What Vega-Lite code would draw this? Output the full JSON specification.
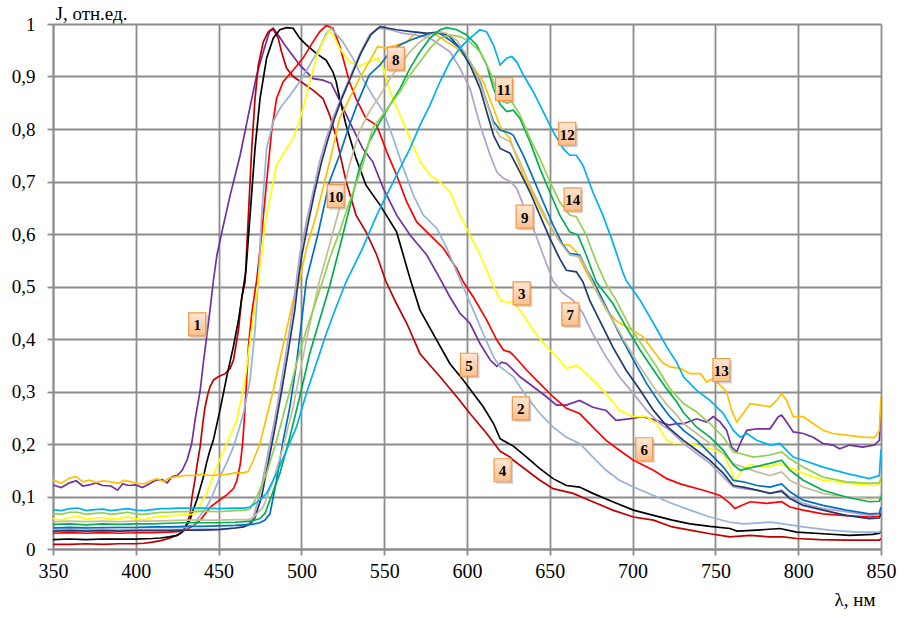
{
"$schema":"https://vega.github.io/schema/vega-lite/v6.json",
"width":828,"height":525,
"autosize":{"type":"none"},
"padding":{"left":53,"top":24,"right":35,"bottom":74},
"background":"white",
"config":{"view":{"stroke":null},"font":"Times New Roman"},
"datasets":{
"labels":[
{"n":"1","x":437.1,"y":0.428},{"n":"2","x":632.5,"y":0.268},{"n":"3","x":633,"y":0.487},{"n":"4","x":621.5,"y":0.15},{"n":"5","x":601.2,"y":0.351},{"n":"6","x":707,"y":0.19},{"n":"7","x":662.4,"y":0.447},{"n":"8","x":557,"y":0.934},{"n":"9","x":634.8,"y":0.633},{"n":"10","x":520.7,"y":0.672},{"n":"11","x":622.3,"y":0.876},{"n":"12","x":660.5,"y":0.791},{"n":"13","x":753.6,"y":0.341},{"n":"14","x":663.8,"y":0.666}
],
"curves":[
{"s":"1","x":350,"y":0.122},{"s":"1","x":355,"y":0.117},{"s":"1","x":360,"y":0.126},{"s":"1","x":364,"y":0.13},{"s":"1","x":368,"y":0.12},{"s":"1","x":372,"y":0.122},{"s":"1","x":376,"y":0.126},{"s":"1","x":380,"y":0.121},{"s":"1","x":385,"y":0.12},{"s":"1","x":389,"y":0.112},{"s":"1","x":392,"y":0.124},{"s":"1","x":396,"y":0.121},{"s":"1","x":400,"y":0.122},{"s":"1","x":404,"y":0.117},{"s":"1","x":408,"y":0.124},{"s":"1","x":412,"y":0.131},{"s":"1","x":416,"y":0.132},{"s":"1","x":419,"y":0.126},{"s":"1","x":422,"y":0.138},{"s":"1","x":425,"y":0.14},{"s":"1","x":428,"y":0.15},{"s":"1","x":431,"y":0.17},{"s":"1","x":433.7,"y":0.2},{"s":"1","x":436,"y":0.25},{"s":"1","x":438.8,"y":0.3},{"s":"1","x":441,"y":0.36},{"s":"1","x":442.8,"y":0.404},{"s":"1","x":445,"y":0.46},{"s":"1","x":446.8,"y":0.51},{"s":"1","x":449,"y":0.56},{"s":"1","x":452,"y":0.604},{"s":"1","x":457,"y":0.674},{"s":"1","x":463,"y":0.75},{"s":"1","x":468,"y":0.827},{"s":"1","x":473,"y":0.903},{"s":"1","x":477,"y":0.947},{"s":"1","x":481,"y":0.988},{"s":"1","x":483,"y":0.992},{"s":"1","x":486,"y":0.979},{"s":"1","x":490,"y":0.96},{"s":"1","x":493,"y":0.947},{"s":"1","x":499,"y":0.922},{"s":"1","x":504,"y":0.906},{"s":"1","x":507,"y":0.896},{"s":"1","x":513,"y":0.893},{"s":"1","x":518,"y":0.887},{"s":"1","x":523,"y":0.855},{"s":"1","x":529,"y":0.814},{"s":"1","x":537,"y":0.763},{"s":"1","x":543,"y":0.738},{"s":"1","x":549.5,"y":0.687},{"s":"1","x":557.5,"y":0.636},{"s":"1","x":565.6,"y":0.598},{"s":"1","x":575.7,"y":0.56},{"s":"1","x":583.7,"y":0.515},{"s":"1","x":589.7,"y":0.48},{"s":"1","x":595.7,"y":0.449},{"s":"1","x":601.8,"y":0.43},{"s":"1","x":607.9,"y":0.391},{"s":"1","x":614,"y":0.36},{"s":"1","x":618,"y":0.348},{"s":"1","x":621,"y":0.356},{"s":"1","x":624,"y":0.353},{"s":"1","x":632,"y":0.328},{"s":"1","x":640,"y":0.309},{"s":"1","x":648,"y":0.29},{"s":"1","x":654,"y":0.274},{"s":"1","x":660,"y":0.274},{"s":"1","x":668,"y":0.283},{"s":"1","x":676,"y":0.27},{"s":"1","x":684,"y":0.264},{"s":"1","x":690,"y":0.245},{"s":"1","x":698,"y":0.248},{"s":"1","x":706,"y":0.252},{"s":"1","x":714,"y":0.245},{"s":"1","x":722,"y":0.236},{"s":"1","x":727,"y":0.239},{"s":"1","x":731,"y":0.239},{"s":"1","x":738.7,"y":0.248},{"s":"1","x":744.7,"y":0.242},{"s":"1","x":748.7,"y":0.252},{"s":"1","x":752.8,"y":0.242},{"s":"1","x":756.8,"y":0.226},{"s":"1","x":759.8,"y":0.194},{"s":"1","x":762.8,"y":0.185},{"s":"1","x":765.8,"y":0.207},{"s":"1","x":769,"y":0.226},{"s":"1","x":775,"y":0.229},{"s":"1","x":783,"y":0.229},{"s":"1","x":788,"y":0.252},{"s":"1","x":790,"y":0.255},{"s":"1","x":793,"y":0.242},{"s":"1","x":797,"y":0.223},{"s":"1","x":803,"y":0.22},{"s":"1","x":809,"y":0.213},{"s":"1","x":815,"y":0.201},{"s":"1","x":821,"y":0.198},{"s":"1","x":825,"y":0.191},{"s":"1","x":831,"y":0.198},{"s":"1","x":839,"y":0.194},{"s":"1","x":846,"y":0.198},{"s":"1","x":849,"y":0.207},{"s":"1","x":850,"y":0.27},

{"s":"4","x":350,"y":0.009},{"s":"4","x":360,"y":0.009},{"s":"4","x":370,"y":0.01},{"s":"4","x":380,"y":0.009},{"s":"4","x":390,"y":0.01},{"s":"4","x":400,"y":0.01},{"s":"4","x":405,"y":0.011},{"s":"4","x":410,"y":0.013},{"s":"4","x":415,"y":0.016},{"s":"4","x":420,"y":0.02},{"s":"4","x":425,"y":0.026},{"s":"4","x":429,"y":0.036},{"s":"4","x":431,"y":0.05},{"s":"4","x":432.7,"y":0.065},{"s":"4","x":434,"y":0.1},{"s":"4","x":435.7,"y":0.131},{"s":"4","x":437,"y":0.16},{"s":"4","x":438.8,"y":0.194},{"s":"4","x":440.5,"y":0.24},{"s":"4","x":441.8,"y":0.27},{"s":"4","x":443.5,"y":0.295},{"s":"4","x":444.8,"y":0.309},{"s":"4","x":447,"y":0.322},{"s":"4","x":449.8,"y":0.328},{"s":"4","x":454,"y":0.334},{"s":"4","x":457,"y":0.344},{"s":"4","x":459,"y":0.36},{"s":"4","x":462,"y":0.417},{"s":"4","x":464,"y":0.48},{"s":"4","x":466,"y":0.509},{"s":"4","x":468,"y":0.636},{"s":"4","x":470,"y":0.763},{"s":"4","x":472,"y":0.858},{"s":"4","x":474,"y":0.922},{"s":"4","x":477,"y":0.966},{"s":"4","x":480,"y":0.985},{"s":"4","x":483,"y":0.99},{"s":"4","x":486,"y":0.973},{"s":"4","x":488,"y":0.947},{"s":"4","x":491,"y":0.916},{"s":"4","x":495,"y":0.9},{"s":"4","x":501,"y":0.887},{"s":"4","x":507,"y":0.874},{"s":"4","x":513,"y":0.858},{"s":"4","x":517,"y":0.827},{"s":"4","x":521,"y":0.785},{"s":"4","x":527,"y":0.7},{"s":"4","x":533,"y":0.636},{"s":"4","x":539,"y":0.604},{"s":"4","x":545.5,"y":0.56},{"s":"4","x":551,"y":0.51},{"s":"4","x":557,"y":0.47},{"s":"4","x":563.6,"y":0.43},{"s":"4","x":571.6,"y":0.372},{"s":"4","x":583.7,"y":0.328},{"s":"4","x":593.8,"y":0.29},{"s":"4","x":601.8,"y":0.258},{"s":"4","x":611.9,"y":0.22},{"s":"4","x":620,"y":0.186},{"s":"4","x":626,"y":0.175},{"s":"4","x":628,"y":0.169},{"s":"4","x":636,"y":0.15},{"s":"4","x":644,"y":0.131},{"s":"4","x":652,"y":0.115},{"s":"4","x":664,"y":0.106},{"s":"4","x":676,"y":0.09},{"s":"4","x":688,"y":0.074},{"s":"4","x":700.5,"y":0.061},{"s":"4","x":712.6,"y":0.055},{"s":"4","x":724,"y":0.042},{"s":"4","x":734.7,"y":0.036},{"s":"4","x":746.7,"y":0.029},{"s":"4","x":758.8,"y":0.023},{"s":"4","x":771,"y":0.026},{"s":"4","x":783,"y":0.023},{"s":"4","x":791,"y":0.023},{"s":"4","x":799,"y":0.02},{"s":"4","x":813,"y":0.018},{"s":"4","x":829,"y":0.017},{"s":"4","x":849,"y":0.017},{"s":"4","x":850,"y":0.02},

{"s":"5","x":350,"y":0.018},{"s":"5","x":360,"y":0.019},{"s":"5","x":370,"y":0.018},{"s":"5","x":380,"y":0.019},{"s":"5","x":390,"y":0.019},{"s":"5","x":400,"y":0.019},{"s":"5","x":410,"y":0.02},{"s":"5","x":415,"y":0.021},{"s":"5","x":420,"y":0.023},{"s":"5","x":425,"y":0.026},{"s":"5","x":428,"y":0.032},{"s":"5","x":430,"y":0.042},{"s":"5","x":432.7,"y":0.055},{"s":"5","x":434.7,"y":0.075},{"s":"5","x":436.8,"y":0.093},{"s":"5","x":438.8,"y":0.115},{"s":"5","x":440.8,"y":0.137},{"s":"5","x":442.8,"y":0.165},{"s":"5","x":444.8,"y":0.188},{"s":"5","x":446.8,"y":0.207},{"s":"5","x":450.8,"y":0.264},{"s":"5","x":454.9,"y":0.328},{"s":"5","x":458.9,"y":0.385},{"s":"5","x":462,"y":0.436},{"s":"5","x":465,"y":0.499},{"s":"5","x":466.5,"y":0.53},{"s":"5","x":469,"y":0.636},{"s":"5","x":472,"y":0.763},{"s":"5","x":475,"y":0.858},{"s":"5","x":479,"y":0.935},{"s":"5","x":483,"y":0.973},{"s":"5","x":487,"y":0.989},{"s":"5","x":491,"y":0.993},{"s":"5","x":495,"y":0.992},{"s":"5","x":499,"y":0.973},{"s":"5","x":503,"y":0.96},{"s":"5","x":509,"y":0.944},{"s":"5","x":515,"y":0.931},{"s":"5","x":519,"y":0.909},{"s":"5","x":521,"y":0.89},{"s":"5","x":523,"y":0.86},{"s":"5","x":527,"y":0.807},{"s":"5","x":533,"y":0.744},{"s":"5","x":539,"y":0.693},{"s":"5","x":547.5,"y":0.655},{"s":"5","x":557.5,"y":0.604},{"s":"5","x":565.6,"y":0.515},{"s":"5","x":571.6,"y":0.455},{"s":"5","x":581.7,"y":0.398},{"s":"5","x":589.7,"y":0.353},{"s":"5","x":597.7,"y":0.322},{"s":"5","x":603.8,"y":0.296},{"s":"5","x":609.8,"y":0.271},{"s":"5","x":616,"y":0.239},{"s":"5","x":620,"y":0.21},{"s":"5","x":624,"y":0.203},{"s":"5","x":628,"y":0.196},{"s":"5","x":636,"y":0.175},{"s":"5","x":644,"y":0.153},{"s":"5","x":652,"y":0.134},{"s":"5","x":660,"y":0.121},{"s":"5","x":668,"y":0.118},{"s":"5","x":676,"y":0.106},{"s":"5","x":688,"y":0.09},{"s":"5","x":700.5,"y":0.074},{"s":"5","x":712.6,"y":0.064},{"s":"5","x":724,"y":0.055},{"s":"5","x":734.7,"y":0.048},{"s":"5","x":746.7,"y":0.043},{"s":"5","x":758.8,"y":0.039},{"s":"5","x":763,"y":0.034},{"s":"5","x":775,"y":0.036},{"s":"5","x":789,"y":0.039},{"s":"5","x":799,"y":0.032},{"s":"5","x":815,"y":0.029},{"s":"5","x":831,"y":0.026},{"s":"5","x":845,"y":0.028},{"s":"5","x":849,"y":0.03},{"s":"5","x":850,"y":0.035},

{"s":"6","x":350,"y":0.03},{"s":"6","x":360,"y":0.031},{"s":"6","x":370,"y":0.03},{"s":"6","x":380,"y":0.031},{"s":"6","x":390,"y":0.03},{"s":"6","x":400,"y":0.031},{"s":"6","x":410,"y":0.031},{"s":"6","x":420,"y":0.032},{"s":"6","x":425,"y":0.033},{"s":"6","x":430,"y":0.036},{"s":"6","x":435,"y":0.045},{"s":"6","x":439,"y":0.055},{"s":"6","x":445,"y":0.08},{"s":"6","x":450,"y":0.092},{"s":"6","x":455,"y":0.103},{"s":"6","x":459,"y":0.115},{"s":"6","x":461,"y":0.13},{"s":"6","x":463,"y":0.16},{"s":"6","x":464.5,"y":0.2},{"s":"6","x":466,"y":0.27},{"s":"6","x":468,"y":0.385},{"s":"6","x":470,"y":0.449},{"s":"6","x":473,"y":0.512},{"s":"6","x":476,"y":0.6},{"s":"6","x":479,"y":0.7},{"s":"6","x":482,"y":0.795},{"s":"6","x":485,"y":0.858},{"s":"6","x":489,"y":0.89},{"s":"6","x":495,"y":0.912},{"s":"6","x":501,"y":0.935},{"s":"6","x":507,"y":0.966},{"s":"6","x":511,"y":0.985},{"s":"6","x":515,"y":0.997},{"s":"6","x":519,"y":0.992},{"s":"6","x":523,"y":0.96},{"s":"6","x":529,"y":0.89},{"s":"6","x":533,"y":0.858},{"s":"6","x":539,"y":0.82},{"s":"6","x":545.5,"y":0.807},{"s":"6","x":551.5,"y":0.757},{"s":"6","x":557.5,"y":0.712},{"s":"6","x":563.6,"y":0.661},{"s":"6","x":569.6,"y":0.623},{"s":"6","x":577.7,"y":0.598},{"s":"6","x":585.7,"y":0.573},{"s":"6","x":593.8,"y":0.534},{"s":"6","x":597.7,"y":0.509},{"s":"6","x":603.8,"y":0.48},{"s":"6","x":611.9,"y":0.436},{"s":"6","x":618,"y":0.398},{"s":"6","x":622,"y":0.379},{"s":"6","x":626,"y":0.375},{"s":"6","x":628,"y":0.369},{"s":"6","x":636,"y":0.341},{"s":"6","x":644,"y":0.315},{"s":"6","x":652,"y":0.29},{"s":"6","x":660,"y":0.268},{"s":"6","x":668,"y":0.258},{"s":"6","x":676,"y":0.232},{"s":"6","x":684,"y":0.207},{"s":"6","x":692,"y":0.188},{"s":"6","x":700.5,"y":0.169},{"s":"6","x":712.6,"y":0.15},{"s":"6","x":720.6,"y":0.134},{"s":"6","x":728.7,"y":0.124},{"s":"6","x":742.7,"y":0.112},{"s":"6","x":752.8,"y":0.102},{"s":"6","x":758.8,"y":0.087},{"s":"6","x":761.8,"y":0.077},{"s":"6","x":765.8,"y":0.083},{"s":"6","x":770.9,"y":0.09},{"s":"6","x":781,"y":0.087},{"s":"6","x":790,"y":0.09},{"s":"6","x":795,"y":0.08},{"s":"6","x":803,"y":0.074},{"s":"6","x":815,"y":0.067},{"s":"6","x":827,"y":0.064},{"s":"6","x":843,"y":0.061},{"s":"6","x":849,"y":0.062},{"s":"6","x":850,"y":0.07},

{"s":"2","x":350,"y":0.04},{"s":"2","x":360,"y":0.04},{"s":"2","x":370,"y":0.041},{"s":"2","x":380,"y":0.04},{"s":"2","x":390,"y":0.041},{"s":"2","x":400,"y":0.041},{"s":"2","x":410,"y":0.041},{"s":"2","x":420,"y":0.041},{"s":"2","x":430,"y":0.041},{"s":"2","x":434.7,"y":0.045},{"s":"2","x":438,"y":0.06},{"s":"2","x":442.8,"y":0.08},{"s":"2","x":446,"y":0.1},{"s":"2","x":450.8,"y":0.137},{"s":"2","x":455,"y":0.165},{"s":"2","x":458.9,"y":0.194},{"s":"2","x":462,"y":0.225},{"s":"2","x":465,"y":0.258},{"s":"2","x":469,"y":0.322},{"s":"2","x":472,"y":0.417},{"s":"2","x":474,"y":0.512},{"s":"2","x":476,"y":0.636},{"s":"2","x":479,"y":0.763},{"s":"2","x":483,"y":0.814},{"s":"2","x":487,"y":0.839},{"s":"2","x":493,"y":0.864},{"s":"2","x":499,"y":0.89},{"s":"2","x":505,"y":0.922},{"s":"2","x":511,"y":0.954},{"s":"2","x":515,"y":0.982},{"s":"2","x":518,"y":0.992},{"s":"2","x":525,"y":0.966},{"s":"2","x":531,"y":0.935},{"s":"2","x":537,"y":0.896},{"s":"2","x":543,"y":0.864},{"s":"2","x":549.5,"y":0.833},{"s":"2","x":555.5,"y":0.782},{"s":"2","x":561.6,"y":0.725},{"s":"2","x":567.6,"y":0.674},{"s":"2","x":573.6,"y":0.636},{"s":"2","x":581.7,"y":0.611},{"s":"2","x":587.8,"y":0.573},{"s":"2","x":593.8,"y":0.528},{"s":"2","x":597.7,"y":0.499},{"s":"2","x":603.8,"y":0.455},{"s":"2","x":609.8,"y":0.41},{"s":"2","x":616,"y":0.366},{"s":"2","x":620,"y":0.347},{"s":"2","x":628,"y":0.328},{"s":"2","x":636,"y":0.29},{"s":"2","x":644,"y":0.258},{"s":"2","x":652,"y":0.232},{"s":"2","x":660,"y":0.213},{"s":"2","x":668,"y":0.201},{"s":"2","x":676,"y":0.175},{"s":"2","x":684,"y":0.15},{"s":"2","x":692,"y":0.131},{"s":"2","x":700.5,"y":0.118},{"s":"2","x":712.6,"y":0.102},{"s":"2","x":722.6,"y":0.088},{"s":"2","x":734.7,"y":0.074},{"s":"2","x":746.7,"y":0.061},{"s":"2","x":758.8,"y":0.051},{"s":"2","x":767,"y":0.048},{"s":"2","x":783,"y":0.051},{"s":"2","x":791,"y":0.048},{"s":"2","x":803,"y":0.042},{"s":"2","x":819,"y":0.036},{"s":"2","x":835,"y":0.032},{"s":"2","x":849,"y":0.032},{"s":"2","x":850,"y":0.035},

{"s":"3","x":350,"y":0.058},{"s":"3","x":355,"y":0.055},{"s":"3","x":360,"y":0.06},{"s":"3","x":365,"y":0.062},{"s":"3","x":370,"y":0.057},{"s":"3","x":375,"y":0.059},{"s":"3","x":380,"y":0.06},{"s":"3","x":385,"y":0.057},{"s":"3","x":390,"y":0.058},{"s":"3","x":395,"y":0.061},{"s":"3","x":400,"y":0.058},{"s":"3","x":405,"y":0.056},{"s":"3","x":410,"y":0.06},{"s":"3","x":415,"y":0.062},{"s":"3","x":420,"y":0.063},{"s":"3","x":425,"y":0.064},{"s":"3","x":430,"y":0.065},{"s":"3","x":434,"y":0.066},{"s":"3","x":436.8,"y":0.07},{"s":"3","x":439,"y":0.085},{"s":"3","x":442.8,"y":0.106},{"s":"3","x":448.8,"y":0.156},{"s":"3","x":454.9,"y":0.201},{"s":"3","x":460.9,"y":0.245},{"s":"3","x":466,"y":0.322},{"s":"3","x":469,"y":0.398},{"s":"3","x":472,"y":0.461},{"s":"3","x":474,"y":0.512},{"s":"3","x":476,"y":0.56},{"s":"3","x":478,"y":0.62},{"s":"3","x":481,"y":0.668},{"s":"3","x":485,"y":0.731},{"s":"3","x":491,"y":0.763},{"s":"3","x":495,"y":0.782},{"s":"3","x":498,"y":0.807},{"s":"3","x":501,"y":0.839},{"s":"3","x":505,"y":0.89},{"s":"3","x":509,"y":0.935},{"s":"3","x":513,"y":0.966},{"s":"3","x":517,"y":0.988},{"s":"3","x":520,"y":0.975},{"s":"3","x":523,"y":0.954},{"s":"3","x":529,"y":0.928},{"s":"3","x":535,"y":0.92},{"s":"3","x":541,"y":0.928},{"s":"3","x":546,"y":0.935},{"s":"3","x":549.5,"y":0.916},{"s":"3","x":553.5,"y":0.871},{"s":"3","x":559.5,"y":0.827},{"s":"3","x":565.6,"y":0.782},{"s":"3","x":571.6,"y":0.738},{"s":"3","x":577.7,"y":0.712},{"s":"3","x":583.7,"y":0.699},{"s":"3","x":589.7,"y":0.68},{"s":"3","x":595.7,"y":0.636},{"s":"3","x":601.8,"y":0.598},{"s":"3","x":607.9,"y":0.56},{"s":"3","x":614,"y":0.515},{"s":"3","x":620,"y":0.474},{"s":"3","x":624,"y":0.47},{"s":"3","x":628,"y":0.471},{"s":"3","x":632,"y":0.455},{"s":"3","x":640,"y":0.417},{"s":"3","x":648,"y":0.385},{"s":"3","x":656,"y":0.36},{"s":"3","x":660,"y":0.344},{"s":"3","x":666,"y":0.35},{"s":"3","x":670,"y":0.34},{"s":"3","x":676,"y":0.322},{"s":"3","x":684,"y":0.296},{"s":"3","x":692,"y":0.264},{"s":"3","x":700.5,"y":0.252},{"s":"3","x":708.5,"y":0.252},{"s":"3","x":714.5,"y":0.239},{"s":"3","x":720.6,"y":0.207},{"s":"3","x":724.6,"y":0.201},{"s":"3","x":734.7,"y":0.201},{"s":"3","x":746.7,"y":0.191},{"s":"3","x":754.8,"y":0.182},{"s":"3","x":758.8,"y":0.156},{"s":"3","x":761.8,"y":0.128},{"s":"3","x":765.8,"y":0.15},{"s":"3","x":770.9,"y":0.16},{"s":"3","x":781,"y":0.156},{"s":"3","x":789,"y":0.163},{"s":"3","x":794,"y":0.156},{"s":"3","x":803,"y":0.144},{"s":"3","x":815,"y":0.131},{"s":"3","x":831,"y":0.125},{"s":"3","x":847,"y":0.121},{"s":"3","x":850,"y":0.125},

{"s":"13","x":350,"y":0.132},{"s":"13","x":355,"y":0.125},{"s":"13","x":360,"y":0.135},{"s":"13","x":364,"y":0.138},{"s":"13","x":368,"y":0.128},{"s":"13","x":372,"y":0.131},{"s":"13","x":376,"y":0.127},{"s":"13","x":380,"y":0.13},{"s":"13","x":385,"y":0.128},{"s":"13","x":390,"y":0.125},{"s":"13","x":393,"y":0.131},{"s":"13","x":397,"y":0.128},{"s":"13","x":401,"y":0.125},{"s":"13","x":405,"y":0.124},{"s":"13","x":409,"y":0.13},{"s":"13","x":413,"y":0.134},{"s":"13","x":417,"y":0.128},{"s":"13","x":420,"y":0.135},{"s":"13","x":425,"y":0.138},{"s":"13","x":430,"y":0.14},{"s":"13","x":435,"y":0.14},{"s":"13","x":440,"y":0.142},{"s":"13","x":445,"y":0.14},{"s":"13","x":450,"y":0.141},{"s":"13","x":455,"y":0.142},{"s":"13","x":460,"y":0.145},{"s":"13","x":465,"y":0.145},{"s":"13","x":468,"y":0.148},{"s":"13","x":471,"y":0.169},{"s":"13","x":475,"y":0.201},{"s":"13","x":479,"y":0.252},{"s":"13","x":483,"y":0.302},{"s":"13","x":487,"y":0.36},{"s":"13","x":491,"y":0.417},{"s":"13","x":495,"y":0.474},{"s":"13","x":499,"y":0.512},{"s":"13","x":503,"y":0.573},{"s":"13","x":509,"y":0.636},{"s":"13","x":515,"y":0.712},{"s":"13","x":519,"y":0.763},{"s":"13","x":523,"y":0.82},{"s":"13","x":529,"y":0.858},{"s":"13","x":535,"y":0.896},{"s":"13","x":541,"y":0.928},{"s":"13","x":546,"y":0.957},{"s":"13","x":551,"y":0.954},{"s":"13","x":557.5,"y":0.96},{"s":"13","x":563.6,"y":0.966},{"s":"13","x":569.6,"y":0.985},{"s":"13","x":575.7,"y":0.982},{"s":"13","x":581.7,"y":0.979},{"s":"13","x":587.8,"y":0.966},{"s":"13","x":593.8,"y":0.954},{"s":"13","x":599.8,"y":0.935},{"s":"13","x":605.8,"y":0.909},{"s":"13","x":609.8,"y":0.89},{"s":"13","x":616,"y":0.839},{"s":"13","x":620,"y":0.805},{"s":"13","x":624,"y":0.788},{"s":"13","x":626,"y":0.782},{"s":"13","x":628,"y":0.763},{"s":"13","x":634,"y":0.712},{"s":"13","x":640,"y":0.674},{"s":"13","x":646,"y":0.636},{"s":"13","x":652,"y":0.604},{"s":"13","x":658,"y":0.579},{"s":"13","x":662,"y":0.579},{"s":"13","x":666,"y":0.566},{"s":"13","x":672,"y":0.528},{"s":"13","x":680,"y":0.48},{"s":"13","x":684,"y":0.455},{"s":"13","x":690,"y":0.435},{"s":"13","x":698,"y":0.42},{"s":"13","x":706,"y":0.405},{"s":"13","x":712,"y":0.38},{"s":"13","x":718,"y":0.355},{"s":"13","x":722.6,"y":0.347},{"s":"13","x":728.7,"y":0.344},{"s":"13","x":734.7,"y":0.334},{"s":"13","x":741,"y":0.334},{"s":"13","x":744.7,"y":0.318},{"s":"13","x":748.7,"y":0.325},{"s":"13","x":752.8,"y":0.312},{"s":"13","x":756.8,"y":0.299},{"s":"13","x":759.8,"y":0.264},{"s":"13","x":762.8,"y":0.242},{"s":"13","x":766.8,"y":0.258},{"s":"13","x":770.9,"y":0.277},{"s":"13","x":777,"y":0.274},{"s":"13","x":783,"y":0.271},{"s":"13","x":787,"y":0.283},{"s":"13","x":790,"y":0.296},{"s":"13","x":793,"y":0.283},{"s":"13","x":797,"y":0.252},{"s":"13","x":803,"y":0.252},{"s":"13","x":809,"y":0.239},{"s":"13","x":815,"y":0.226},{"s":"13","x":821,"y":0.22},{"s":"13","x":829,"y":0.217},{"s":"13","x":839,"y":0.213},{"s":"13","x":846,"y":0.212},{"s":"13","x":849,"y":0.225},{"s":"13","x":850,"y":0.29},

{"s":"7","x":350,"y":0.036},{"s":"7","x":360,"y":0.037},{"s":"7","x":370,"y":0.036},{"s":"7","x":380,"y":0.037},{"s":"7","x":390,"y":0.036},{"s":"7","x":400,"y":0.037},{"s":"7","x":410,"y":0.037},{"s":"7","x":420,"y":0.037},{"s":"7","x":430,"y":0.037},{"s":"7","x":440,"y":0.038},{"s":"7","x":450,"y":0.038},{"s":"7","x":460,"y":0.04},{"s":"7","x":465,"y":0.042},{"s":"7","x":468,"y":0.048},{"s":"7","x":471,"y":0.061},{"s":"7","x":475,"y":0.106},{"s":"7","x":479,"y":0.169},{"s":"7","x":483,"y":0.232},{"s":"7","x":487,"y":0.302},{"s":"7","x":491,"y":0.379},{"s":"7","x":495,"y":0.461},{"s":"7","x":497,"y":0.512},{"s":"7","x":499,"y":0.56},{"s":"7","x":503,"y":0.623},{"s":"7","x":507,"y":0.68},{"s":"7","x":511,"y":0.738},{"s":"7","x":515,"y":0.782},{"s":"7","x":519,"y":0.82},{"s":"7","x":523,"y":0.852},{"s":"7","x":529,"y":0.896},{"s":"7","x":535,"y":0.941},{"s":"7","x":541,"y":0.979},{"s":"7","x":546,"y":0.992},{"s":"7","x":553.5,"y":0.989},{"s":"7","x":561.6,"y":0.982},{"s":"7","x":569.6,"y":0.979},{"s":"7","x":577.7,"y":0.973},{"s":"7","x":583.7,"y":0.96},{"s":"7","x":589.7,"y":0.947},{"s":"7","x":595.7,"y":0.916},{"s":"7","x":601.8,"y":0.877},{"s":"7","x":607.9,"y":0.807},{"s":"7","x":614,"y":0.75},{"s":"7","x":618,"y":0.718},{"s":"7","x":622,"y":0.706},{"s":"7","x":626,"y":0.7},{"s":"7","x":630,"y":0.687},{"s":"7","x":634,"y":0.655},{"s":"7","x":640,"y":0.611},{"s":"7","x":646,"y":0.56},{"s":"7","x":652,"y":0.51},{"s":"7","x":658,"y":0.487},{"s":"7","x":664,"y":0.474},{"s":"7","x":670,"y":0.449},{"s":"7","x":676,"y":0.41},{"s":"7","x":684,"y":0.366},{"s":"7","x":692,"y":0.328},{"s":"7","x":700.5,"y":0.296},{"s":"7","x":708.5,"y":0.264},{"s":"7","x":716.5,"y":0.239},{"s":"7","x":722.6,"y":0.226},{"s":"7","x":730.7,"y":0.201},{"s":"7","x":738.7,"y":0.182},{"s":"7","x":746.7,"y":0.163},{"s":"7","x":754.8,"y":0.137},{"s":"7","x":760.8,"y":0.118},{"s":"7","x":766.8,"y":0.115},{"s":"7","x":775,"y":0.112},{"s":"7","x":783,"y":0.106},{"s":"7","x":790,"y":0.112},{"s":"7","x":795,"y":0.099},{"s":"7","x":803,"y":0.087},{"s":"7","x":815,"y":0.077},{"s":"7","x":829,"y":0.071},{"s":"7","x":843,"y":0.064},{"s":"7","x":849,"y":0.066},{"s":"7","x":850,"y":0.075},

{"s":"9","x":350,"y":0.034},{"s":"9","x":360,"y":0.035},{"s":"9","x":370,"y":0.034},{"s":"9","x":380,"y":0.035},{"s":"9","x":390,"y":0.034},{"s":"9","x":400,"y":0.035},{"s":"9","x":410,"y":0.035},{"s":"9","x":420,"y":0.035},{"s":"9","x":430,"y":0.036},{"s":"9","x":440,"y":0.036},{"s":"9","x":450,"y":0.037},{"s":"9","x":460,"y":0.04},{"s":"9","x":465,"y":0.042},{"s":"9","x":469,"y":0.047},{"s":"9","x":472,"y":0.06},{"s":"9","x":476,"y":0.1},{"s":"9","x":480,"y":0.165},{"s":"9","x":484,"y":0.23},{"s":"9","x":488,"y":0.3},{"s":"9","x":492,"y":0.375},{"s":"9","x":496,"y":0.455},{"s":"9","x":498,"y":0.51},{"s":"9","x":500,"y":0.555},{"s":"9","x":504,"y":0.62},{"s":"9","x":508,"y":0.68},{"s":"9","x":512,"y":0.735},{"s":"9","x":516,"y":0.78},{"s":"9","x":520,"y":0.82},{"s":"9","x":524,"y":0.855},{"s":"9","x":530,"y":0.9},{"s":"9","x":536,"y":0.945},{"s":"9","x":542,"y":0.98},{"s":"9","x":547.5,"y":0.995},{"s":"9","x":557.5,"y":0.989},{"s":"9","x":567.6,"y":0.985},{"s":"9","x":575.7,"y":0.982},{"s":"9","x":583.7,"y":0.985},{"s":"9","x":589.7,"y":0.976},{"s":"9","x":595.7,"y":0.954},{"s":"9","x":601.8,"y":0.922},{"s":"9","x":607.9,"y":0.877},{"s":"9","x":611.9,"y":0.833},{"s":"9","x":616,"y":0.788},{"s":"9","x":620,"y":0.763},{"s":"9","x":626,"y":0.754},{"s":"9","x":632,"y":0.718},{"s":"9","x":638,"y":0.68},{"s":"9","x":644,"y":0.636},{"s":"9","x":650,"y":0.592},{"s":"9","x":656,"y":0.553},{"s":"9","x":660,"y":0.531},{"s":"9","x":666,"y":0.528},{"s":"9","x":670,"y":0.509},{"s":"9","x":674,"y":0.474},{"s":"9","x":680,"y":0.436},{"s":"9","x":688,"y":0.385},{"s":"9","x":696,"y":0.341},{"s":"9","x":704.5,"y":0.303},{"s":"9","x":712.6,"y":0.264},{"s":"9","x":720.6,"y":0.234},{"s":"9","x":730.7,"y":0.207},{"s":"9","x":738.7,"y":0.188},{"s":"9","x":746.7,"y":0.169},{"s":"9","x":754.8,"y":0.144},{"s":"9","x":760.8,"y":0.121},{"s":"9","x":766.8,"y":0.118},{"s":"9","x":775,"y":0.112},{"s":"9","x":783,"y":0.106},{"s":"9","x":790,"y":0.11},{"s":"9","x":795,"y":0.096},{"s":"9","x":803,"y":0.083},{"s":"9","x":815,"y":0.074},{"s":"9","x":829,"y":0.064},{"s":"9","x":843,"y":0.058},{"s":"9","x":849,"y":0.059},{"s":"9","x":850,"y":0.068},

{"s":"10","x":350,"y":0.04},{"s":"10","x":360,"y":0.041},{"s":"10","x":370,"y":0.04},{"s":"10","x":380,"y":0.041},{"s":"10","x":390,"y":0.041},{"s":"10","x":400,"y":0.041},{"s":"10","x":410,"y":0.042},{"s":"10","x":420,"y":0.042},{"s":"10","x":430,"y":0.043},{"s":"10","x":440,"y":0.043},{"s":"10","x":450,"y":0.044},{"s":"10","x":460,"y":0.045},{"s":"10","x":470,"y":0.047},{"s":"10","x":475,"y":0.05},{"s":"10","x":478,"y":0.055},{"s":"10","x":481,"y":0.067},{"s":"10","x":485,"y":0.131},{"s":"10","x":489,"y":0.207},{"s":"10","x":493,"y":0.27},{"s":"10","x":497,"y":0.353},{"s":"10","x":500,"y":0.43},{"s":"10","x":503,"y":0.512},{"s":"10","x":510,"y":0.6},{"s":"10","x":517,"y":0.7},{"s":"10","x":523,"y":0.75},{"s":"10","x":529,"y":0.807},{"s":"10","x":535,"y":0.858},{"s":"10","x":541,"y":0.903},{"s":"10","x":547.5,"y":0.922},{"s":"10","x":553.5,"y":0.947},{"s":"10","x":559.5,"y":0.96},{"s":"10","x":565.6,"y":0.969},{"s":"10","x":571.6,"y":0.976},{"s":"10","x":577.7,"y":0.982},{"s":"10","x":583.7,"y":0.982},{"s":"10","x":589.7,"y":0.969},{"s":"10","x":595.7,"y":0.954},{"s":"10","x":601.8,"y":0.928},{"s":"10","x":607.9,"y":0.89},{"s":"10","x":611.9,"y":0.852},{"s":"10","x":616,"y":0.814},{"s":"10","x":620,"y":0.798},{"s":"10","x":626,"y":0.792},{"s":"10","x":628,"y":0.788},{"s":"10","x":634,"y":0.75},{"s":"10","x":640,"y":0.706},{"s":"10","x":646,"y":0.661},{"s":"10","x":652,"y":0.617},{"s":"10","x":658,"y":0.579},{"s":"10","x":662,"y":0.563},{"s":"10","x":668,"y":0.56},{"s":"10","x":672,"y":0.534},{"s":"10","x":676,"y":0.512},{"s":"10","x":684,"y":0.461},{"s":"10","x":692,"y":0.41},{"s":"10","x":700.5,"y":0.36},{"s":"10","x":708.5,"y":0.315},{"s":"10","x":716.5,"y":0.277},{"s":"10","x":722.6,"y":0.252},{"s":"10","x":730.7,"y":0.226},{"s":"10","x":738.7,"y":0.207},{"s":"10","x":746.7,"y":0.182},{"s":"10","x":754.8,"y":0.156},{"s":"10","x":760.8,"y":0.131},{"s":"10","x":766.8,"y":0.128},{"s":"10","x":775,"y":0.121},{"s":"10","x":783,"y":0.118},{"s":"10","x":790,"y":0.124},{"s":"10","x":795,"y":0.109},{"s":"10","x":803,"y":0.093},{"s":"10","x":815,"y":0.083},{"s":"10","x":829,"y":0.074},{"s":"10","x":843,"y":0.067},{"s":"10","x":849,"y":0.068},{"s":"10","x":850,"y":0.08},

{"s":"8","x":350,"y":0.052},{"s":"8","x":360,"y":0.053},{"s":"8","x":370,"y":0.052},{"s":"8","x":380,"y":0.053},{"s":"8","x":390,"y":0.052},{"s":"8","x":400,"y":0.053},{"s":"8","x":410,"y":0.053},{"s":"8","x":420,"y":0.054},{"s":"8","x":430,"y":0.055},{"s":"8","x":440,"y":0.055},{"s":"8","x":450,"y":0.055},{"s":"8","x":460,"y":0.056},{"s":"8","x":468,"y":0.056},{"s":"8","x":471,"y":0.06},{"s":"8","x":477,"y":0.08},{"s":"8","x":483,"y":0.131},{"s":"8","x":489,"y":0.194},{"s":"8","x":495,"y":0.27},{"s":"8","x":499,"y":0.334},{"s":"8","x":503,"y":0.398},{"s":"8","x":507,"y":0.455},{"s":"8","x":511,"y":0.512},{"s":"8","x":517,"y":0.579},{"s":"8","x":523,"y":0.649},{"s":"8","x":529,"y":0.731},{"s":"8","x":535,"y":0.795},{"s":"8","x":541,"y":0.833},{"s":"8","x":547.5,"y":0.864},{"s":"8","x":553.5,"y":0.896},{"s":"8","x":559.5,"y":0.922},{"s":"8","x":565.6,"y":0.947},{"s":"8","x":571.6,"y":0.966},{"s":"8","x":577.7,"y":0.979},{"s":"8","x":583.7,"y":0.985},{"s":"8","x":587.8,"y":0.982},{"s":"8","x":593.8,"y":0.969},{"s":"8","x":599.8,"y":0.941},{"s":"8","x":605.8,"y":0.903},{"s":"8","x":611.9,"y":0.852},{"s":"8","x":616,"y":0.807},{"s":"8","x":620,"y":0.785},{"s":"8","x":626,"y":0.776},{"s":"8","x":632,"y":0.738},{"s":"8","x":638,"y":0.693},{"s":"8","x":644,"y":0.655},{"s":"8","x":650,"y":0.617},{"s":"8","x":656,"y":0.585},{"s":"8","x":662,"y":0.56},{"s":"8","x":668,"y":0.557},{"s":"8","x":672,"y":0.534},{"s":"8","x":680,"y":0.48},{"s":"8","x":688,"y":0.436},{"s":"8","x":696,"y":0.391},{"s":"8","x":704.5,"y":0.347},{"s":"8","x":712.6,"y":0.309},{"s":"8","x":720.6,"y":0.275},{"s":"8","x":726.7,"y":0.255},{"s":"8","x":730.7,"y":0.239},{"s":"8","x":738.7,"y":0.22},{"s":"8","x":746.7,"y":0.201},{"s":"8","x":754.8,"y":0.182},{"s":"8","x":760.8,"y":0.163},{"s":"8","x":766.8,"y":0.156},{"s":"8","x":775,"y":0.147},{"s":"8","x":783,"y":0.14},{"s":"8","x":790,"y":0.147},{"s":"8","x":795,"y":0.131},{"s":"8","x":803,"y":0.118},{"s":"8","x":815,"y":0.106},{"s":"8","x":829,"y":0.099},{"s":"8","x":843,"y":0.096},{"s":"8","x":849,"y":0.097},{"s":"8","x":850,"y":0.105},

{"s":"11","x":350,"y":0.047},{"s":"11","x":360,"y":0.048},{"s":"11","x":370,"y":0.046},{"s":"11","x":380,"y":0.048},{"s":"11","x":390,"y":0.047},{"s":"11","x":400,"y":0.048},{"s":"11","x":410,"y":0.048},{"s":"11","x":420,"y":0.049},{"s":"11","x":430,"y":0.05},{"s":"11","x":440,"y":0.05},{"s":"11","x":450,"y":0.05},{"s":"11","x":460,"y":0.051},{"s":"11","x":470,"y":0.053},{"s":"11","x":475,"y":0.058},{"s":"11","x":478,"y":0.068},{"s":"11","x":481,"y":0.093},{"s":"11","x":487,"y":0.144},{"s":"11","x":493,"y":0.213},{"s":"11","x":499,"y":0.29},{"s":"11","x":505,"y":0.372},{"s":"11","x":511,"y":0.436},{"s":"11","x":517,"y":0.5},{"s":"11","x":523,"y":0.573},{"s":"11","x":529,"y":0.649},{"s":"11","x":535,"y":0.725},{"s":"11","x":541,"y":0.776},{"s":"11","x":547.5,"y":0.814},{"s":"11","x":553.5,"y":0.846},{"s":"11","x":559.5,"y":0.877},{"s":"11","x":565.6,"y":0.916},{"s":"11","x":571.6,"y":0.947},{"s":"11","x":577.7,"y":0.973},{"s":"11","x":583.7,"y":0.989},{"s":"11","x":587.8,"y":0.993},{"s":"11","x":593.8,"y":0.989},{"s":"11","x":599.8,"y":0.979},{"s":"11","x":605.8,"y":0.96},{"s":"11","x":611.9,"y":0.922},{"s":"11","x":616,"y":0.877},{"s":"11","x":620,"y":0.847},{"s":"11","x":624,"y":0.833},{"s":"11","x":628,"y":0.836},{"s":"11","x":632,"y":0.82},{"s":"11","x":638,"y":0.776},{"s":"11","x":644,"y":0.725},{"s":"11","x":650,"y":0.68},{"s":"11","x":656,"y":0.636},{"s":"11","x":662,"y":0.604},{"s":"11","x":667,"y":0.598},{"s":"11","x":672,"y":0.56},{"s":"11","x":678,"y":0.509},{"s":"11","x":688,"y":0.468},{"s":"11","x":696,"y":0.423},{"s":"11","x":704.5,"y":0.379},{"s":"11","x":712.6,"y":0.341},{"s":"11","x":720.6,"y":0.305},{"s":"11","x":726.7,"y":0.28},{"s":"11","x":730.7,"y":0.26},{"s":"11","x":738.7,"y":0.232},{"s":"11","x":746.7,"y":0.213},{"s":"11","x":754.8,"y":0.188},{"s":"11","x":760.8,"y":0.16},{"s":"11","x":765,"y":0.15},{"s":"11","x":773,"y":0.156},{"s":"11","x":783,"y":0.163},{"s":"11","x":790,"y":0.169},{"s":"11","x":795,"y":0.15},{"s":"11","x":803,"y":0.131},{"s":"11","x":815,"y":0.112},{"s":"11","x":829,"y":0.099},{"s":"11","x":843,"y":0.09},{"s":"11","x":849,"y":0.091},{"s":"11","x":850,"y":0.1},

{"s":"14","x":350,"y":0.068},{"s":"14","x":355,"y":0.066},{"s":"14","x":360,"y":0.07},{"s":"14","x":365,"y":0.07},{"s":"14","x":370,"y":0.066},{"s":"14","x":375,"y":0.068},{"s":"14","x":380,"y":0.069},{"s":"14","x":385,"y":0.066},{"s":"14","x":390,"y":0.068},{"s":"14","x":395,"y":0.07},{"s":"14","x":400,"y":0.067},{"s":"14","x":405,"y":0.066},{"s":"14","x":410,"y":0.068},{"s":"14","x":415,"y":0.07},{"s":"14","x":420,"y":0.07},{"s":"14","x":425,"y":0.071},{"s":"14","x":430,"y":0.071},{"s":"14","x":440,"y":0.072},{"s":"14","x":450,"y":0.071},{"s":"14","x":460,"y":0.073},{"s":"14","x":466,"y":0.074},{"s":"14","x":469,"y":0.076},{"s":"14","x":473,"y":0.099},{"s":"14","x":479,"y":0.144},{"s":"14","x":485,"y":0.207},{"s":"14","x":491,"y":0.277},{"s":"14","x":497,"y":0.353},{"s":"14","x":503,"y":0.417},{"s":"14","x":509,"y":0.474},{"s":"14","x":513,"y":0.512},{"s":"14","x":517,"y":0.553},{"s":"14","x":523,"y":0.604},{"s":"14","x":529,"y":0.661},{"s":"14","x":537,"y":0.731},{"s":"14","x":543,"y":0.801},{"s":"14","x":547.5,"y":0.82},{"s":"14","x":553.5,"y":0.846},{"s":"14","x":559.5,"y":0.871},{"s":"14","x":565.6,"y":0.903},{"s":"14","x":571.6,"y":0.928},{"s":"14","x":577.7,"y":0.954},{"s":"14","x":583.7,"y":0.973},{"s":"14","x":589.7,"y":0.979},{"s":"14","x":595.7,"y":0.976},{"s":"14","x":601.8,"y":0.966},{"s":"14","x":607.9,"y":0.947},{"s":"14","x":614,"y":0.909},{"s":"14","x":618,"y":0.871},{"s":"14","x":622,"y":0.852},{"s":"14","x":624,"y":0.849},{"s":"14","x":627,"y":0.852},{"s":"14","x":632,"y":0.827},{"s":"14","x":638,"y":0.782},{"s":"14","x":644,"y":0.744},{"s":"14","x":650,"y":0.7},{"s":"14","x":656,"y":0.661},{"s":"14","x":662,"y":0.636},{"s":"14","x":666,"y":0.633},{"s":"14","x":672,"y":0.598},{"s":"14","x":678,"y":0.547},{"s":"14","x":684,"y":0.505},{"s":"14","x":690,"y":0.474},{"s":"14","x":698.4,"y":0.423},{"s":"14","x":706.5,"y":0.385},{"s":"14","x":714.5,"y":0.347},{"s":"14","x":722.6,"y":0.305},{"s":"14","x":730.7,"y":0.277},{"s":"14","x":738.7,"y":0.261},{"s":"14","x":746.7,"y":0.239},{"s":"14","x":754.8,"y":0.213},{"s":"14","x":760.8,"y":0.185},{"s":"14","x":765,"y":0.182},{"s":"14","x":773,"y":0.175},{"s":"14","x":783,"y":0.179},{"s":"14","x":790,"y":0.185},{"s":"14","x":795,"y":0.172},{"s":"14","x":803,"y":0.156},{"s":"14","x":815,"y":0.137},{"s":"14","x":829,"y":0.128},{"s":"14","x":843,"y":0.125},{"s":"14","x":849,"y":0.126},{"s":"14","x":850,"y":0.135},

{"s":"12","x":350,"y":0.075},{"s":"12","x":355,"y":0.073},{"s":"12","x":360,"y":0.077},{"s":"12","x":365,"y":0.078},{"s":"12","x":370,"y":0.073},{"s":"12","x":375,"y":0.075},{"s":"12","x":380,"y":0.076},{"s":"12","x":385,"y":0.073},{"s":"12","x":390,"y":0.075},{"s":"12","x":395,"y":0.077},{"s":"12","x":400,"y":0.074},{"s":"12","x":405,"y":0.073},{"s":"12","x":410,"y":0.075},{"s":"12","x":415,"y":0.077},{"s":"12","x":420,"y":0.077},{"s":"12","x":425,"y":0.078},{"s":"12","x":430,"y":0.078},{"s":"12","x":440,"y":0.078},{"s":"12","x":450,"y":0.077},{"s":"12","x":460,"y":0.078},{"s":"12","x":466,"y":0.078},{"s":"12","x":469,"y":0.08},{"s":"12","x":475,"y":0.093},{"s":"12","x":479,"y":0.106},{"s":"12","x":485,"y":0.144},{"s":"12","x":491,"y":0.188},{"s":"12","x":497,"y":0.232},{"s":"12","x":503,"y":0.296},{"s":"12","x":509,"y":0.353},{"s":"12","x":515,"y":0.41},{"s":"12","x":521,"y":0.461},{"s":"12","x":527,"y":0.509},{"s":"12","x":537,"y":0.573},{"s":"12","x":545.5,"y":0.636},{"s":"12","x":553.5,"y":0.687},{"s":"12","x":559.5,"y":0.725},{"s":"12","x":565.6,"y":0.763},{"s":"12","x":571.6,"y":0.807},{"s":"12","x":577.7,"y":0.846},{"s":"12","x":583.7,"y":0.89},{"s":"12","x":589.7,"y":0.928},{"s":"12","x":595.7,"y":0.954},{"s":"12","x":601.8,"y":0.973},{"s":"12","x":607.9,"y":0.989},{"s":"12","x":611.9,"y":0.985},{"s":"12","x":616,"y":0.96},{"s":"12","x":620,"y":0.922},{"s":"12","x":624,"y":0.935},{"s":"12","x":627,"y":0.938},{"s":"12","x":630,"y":0.928},{"s":"12","x":634,"y":0.903},{"s":"12","x":640,"y":0.871},{"s":"12","x":646,"y":0.833},{"s":"12","x":652,"y":0.795},{"s":"12","x":658,"y":0.763},{"s":"12","x":662,"y":0.75},{"s":"12","x":666,"y":0.75},{"s":"12","x":670,"y":0.731},{"s":"12","x":676,"y":0.68},{"s":"12","x":682,"y":0.636},{"s":"12","x":688,"y":0.585},{"s":"12","x":694,"y":0.528},{"s":"12","x":696,"y":0.512},{"s":"12","x":704.5,"y":0.474},{"s":"12","x":712.6,"y":0.43},{"s":"12","x":720.6,"y":0.385},{"s":"12","x":726.7,"y":0.355},{"s":"12","x":730.7,"y":0.328},{"s":"12","x":738.7,"y":0.302},{"s":"12","x":746.7,"y":0.283},{"s":"12","x":754.8,"y":0.258},{"s":"12","x":760.8,"y":0.226},{"s":"12","x":765,"y":0.213},{"s":"12","x":769,"y":0.22},{"s":"12","x":775,"y":0.207},{"s":"12","x":783,"y":0.198},{"s":"12","x":789,"y":0.201},{"s":"12","x":793,"y":0.188},{"s":"12","x":797,"y":0.175},{"s":"12","x":803,"y":0.169},{"s":"12","x":815,"y":0.156},{"s":"12","x":829,"y":0.144},{"s":"12","x":843,"y":0.134},{"s":"12","x":849,"y":0.14},{"s":"12","x":850,"y":0.19}
]},
"layer":[
{"data":{"name":"curves"},
 "mark":{"type":"line","strokeWidth":1.7,"clip":true},
 "encoding":{
  "x":{"field":"x","type":"quantitative","scale":{"domain":[350,850],"nice":false,"zero":false},
   "axis":{"values":[350,400,450,500,550,600,650,700,750,800,850],"grid":true,"gridColor":"#8C8C8C","gridWidth":1.8,"domainColor":"#8C8C8C","domainWidth":1.8,"tickColor":"#8C8C8C","tickWidth":1.8,"tickSize":6,"labelFont":"Times New Roman","labelFontSize":20,"labelColor":"black","labelPadding":6,"labelFlush":false,"labelOverlap":false,
    "title":"λ, нм","titleFont":"Times New Roman","titleFontSize":19,"titleFontWeight":"normal","titleColor":"black","titleAnchor":"end","titleX":822,"titleY":56,"titleAlign":"right","titleBaseline":"alphabetic"}},
  "y":{"field":"y","type":"quantitative","scale":{"domain":[0,1],"nice":false},
   "axis":{"values":[0,0.1,0.2,0.3,0.4,0.5,0.6,0.7,0.8,0.9,1],"labelExpr":"datum.value == 0 ? '0' : datum.value == 1 ? '1' : replace(format(datum.value, '.1f'), '.', ',')","grid":true,"gridColor":"#8C8C8C","gridWidth":1.8,"domainColor":"#8C8C8C","domainWidth":1.8,"tickColor":"#8C8C8C","tickWidth":1.8,"tickSize":6,"labelFont":"Times New Roman","labelFontSize":19,"labelColor":"black","labelPadding":12,"labelFlush":false,"labelOverlap":false,
    "title":"J, отн.ед.","titleFont":"Times New Roman","titleFontSize":19,"titleFontWeight":"normal","titleColor":"black","titleAngle":0,"titleX":2,"titleY":-5,"titleAlign":"left","titleBaseline":"alphabetic"}},
  "color":{"field":"s","type":"nominal","scale":{"domain":["1","2","3","4","5","6","7","8","9","10","11","12","13","14"],"range":["#7030A0","#95B3D7","#FFFF00","#C00000","#000000","#FF0000","#B3A2C7","#C4BD97","#1F3A6E","#0070C0","#00B050","#00B0F0","#FFC000","#92D050"]},"legend":null}
 }},
{"data":{"name":"labels"},
 "mark":{"type":"point","shape":"M-0.74,-1L0.74,-1L0.74,1L-0.74,1Z","size":529,"filled":true,"fill":"#9A9A9A","opacity":0.45,"strokeWidth":0,"xOffset":2,"yOffset":2},
 "encoding":{"x":{"field":"x","type":"quantitative"},"y":{"field":"y","type":"quantitative"}}},
{"data":{"name":"labels"},
 "mark":{"type":"point","shape":"M-0.74,-1L0.74,-1L0.74,1L-0.74,1Z","size":529,"filled":true,"opacity":1,
  "fill":{"gradient":"linear","x1":0,"y1":0,"x2":0,"y2":1,"stops":[{"offset":0,"color":"#FEE8D6"},{"offset":1,"color":"#FBBF8C"}]},
  "stroke":"#F79646","strokeWidth":1.2},
 "encoding":{"x":{"field":"x","type":"quantitative"},"y":{"field":"y","type":"quantitative"}}},
{"data":{"name":"labels"},
 "mark":{"type":"text","font":"Times New Roman","fontWeight":"bold","fontSize":15,"color":"black","align":"center","baseline":"middle","dy":1},
 "encoding":{"x":{"field":"x","type":"quantitative"},"y":{"field":"y","type":"quantitative"},"text":{"field":"n"}}}
]
}
